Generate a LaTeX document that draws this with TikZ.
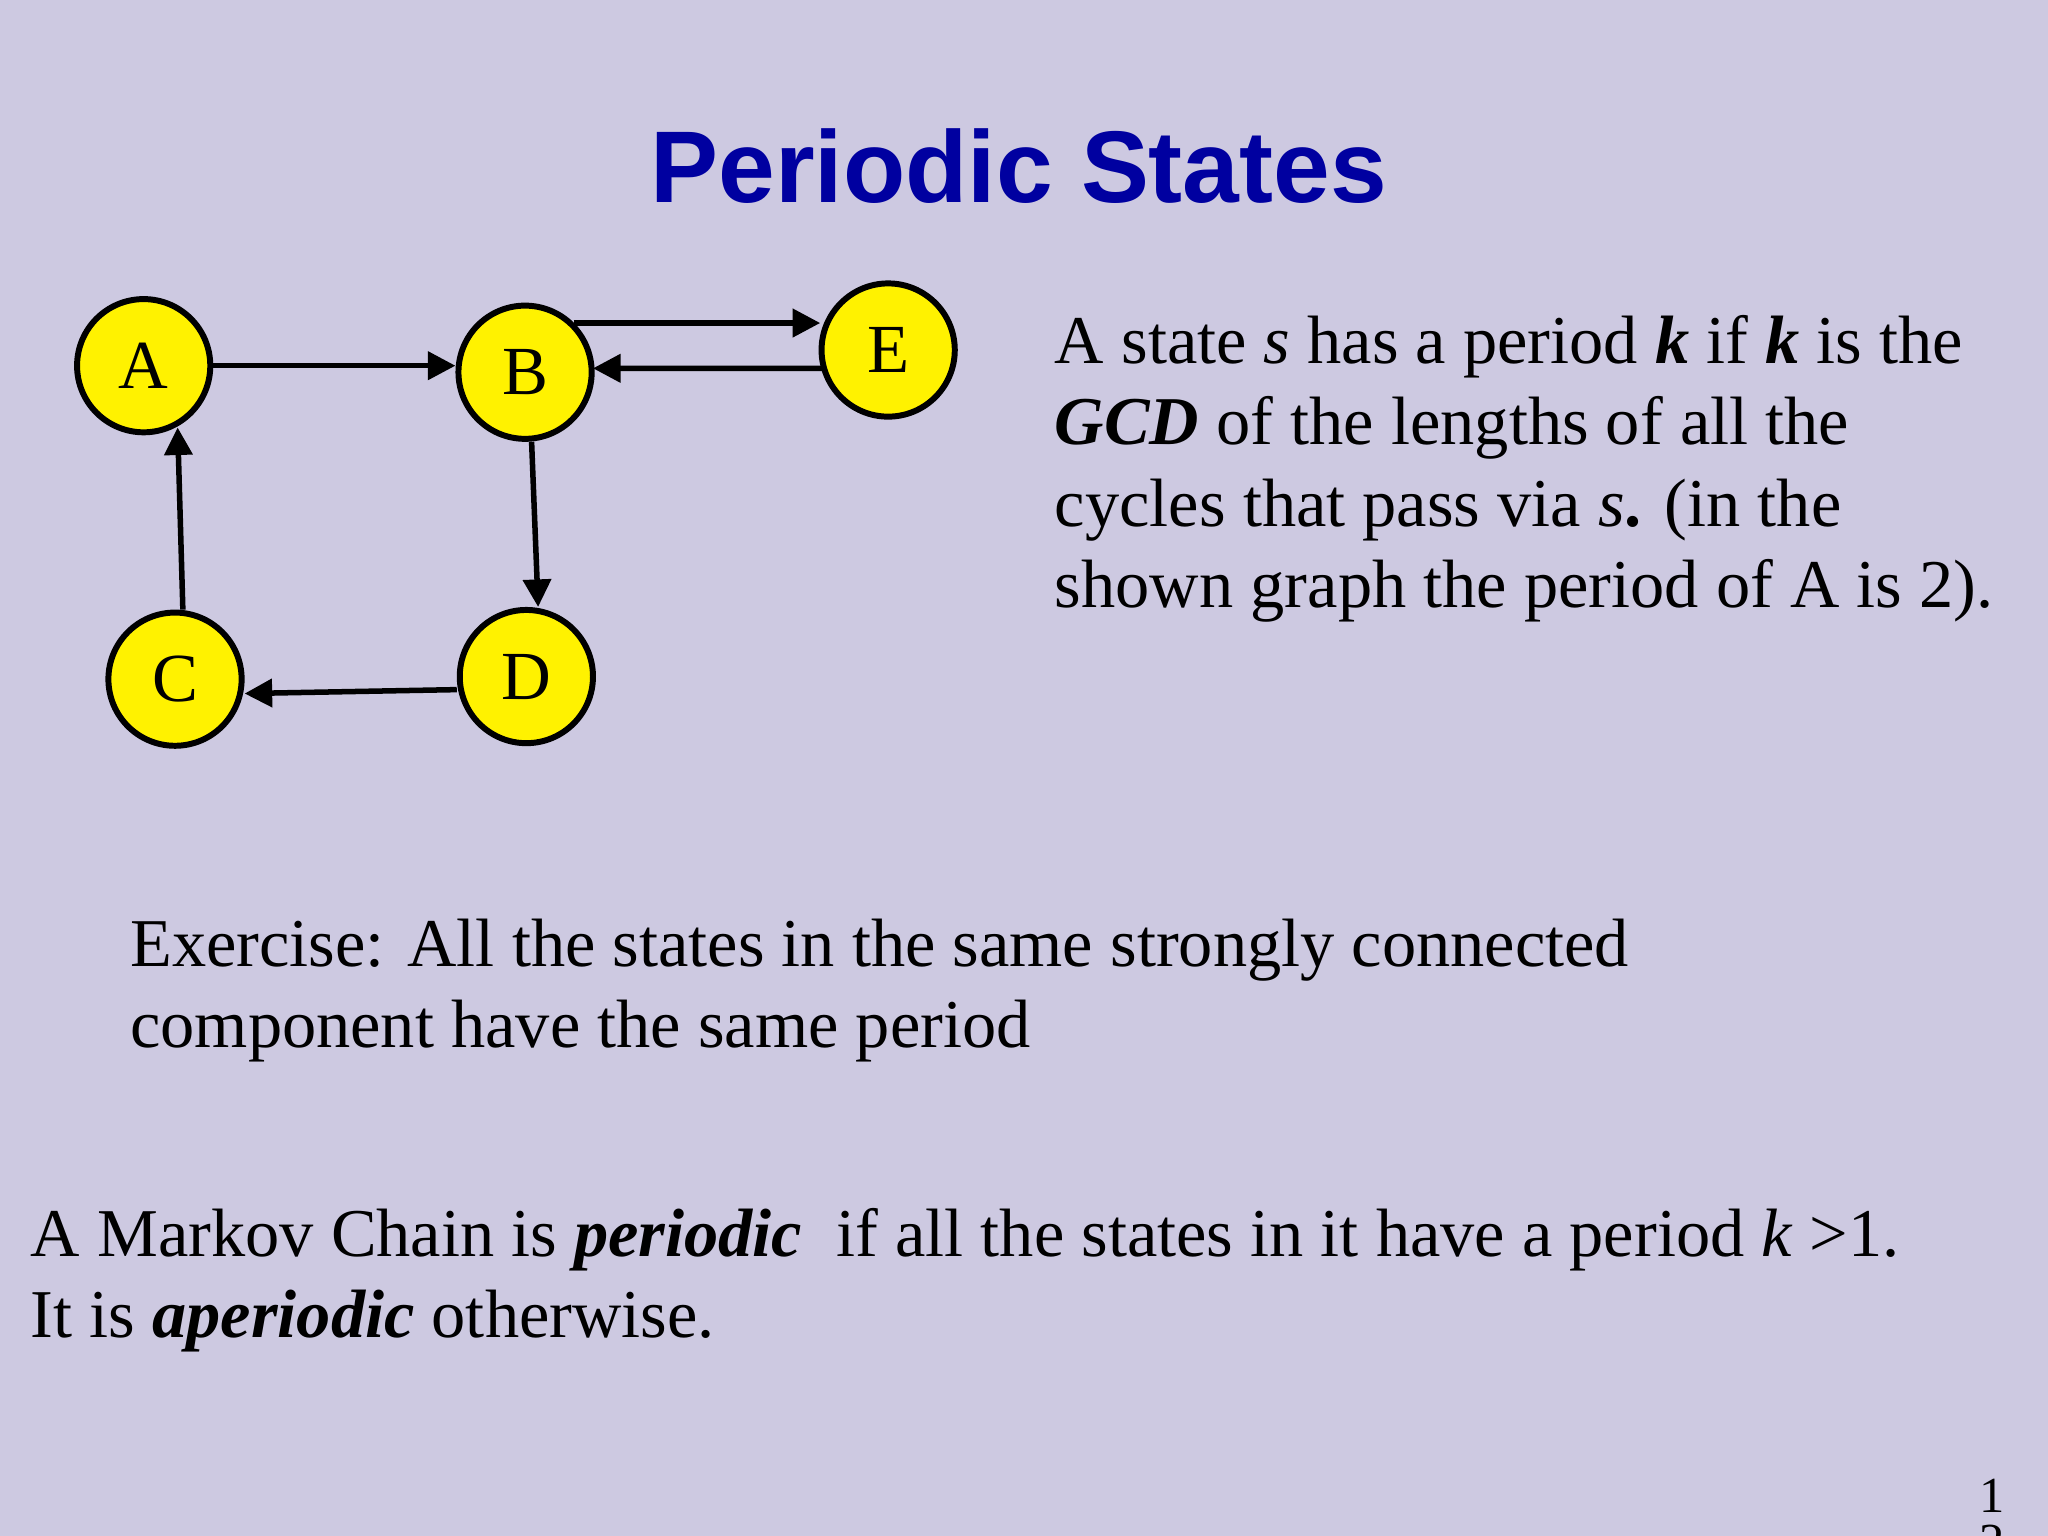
\documentclass[tikz,border=0pt]{standalone}
\usepackage{fontspec}
\setmainfont{Liberation Serif}
\newfontfamily\titlefont{Liberation Sans}
\usetikzlibrary{arrows.meta,calc}
\definecolor{bg}{RGB}{205,201,225}
\definecolor{ttl}{RGB}{0,0,160}
\begin{document}
\begin{tikzpicture}[
  st/.style={circle,draw=black,line width=1.3pt,fill=yellow,minimum size=1.02cm,inner sep=0pt,font=\fontsize{15}{15}\selectfont},
  ar/.style={-{Triangle[length=6pt,width=6pt]},line width=1.2pt},
  txt/.style={anchor=base west,inner sep=0pt,font=\fontsize{14.9}{18}\selectfont}]
\fill[bg] (0,0) rectangle (15.68,-11.76);
\useasboundingbox (0,0) rectangle (15.68,-11.76);
\node[anchor=base,inner sep=0pt,font=\titlefont\fontsize{22.2}{26}\selectfont\bfseries,text=ttl] (title) at (7.8,-1.55) {Periodic States};
\node[st] (A) at (1.10,-2.80) {A};
\node[st] (B) at (4.02,-2.85) {B};
\node[st] (E) at (6.80,-2.68) {E};
\node[st] (C) at (1.34,-5.20) {C};
\node[st] (D) at (4.03,-5.18) {D};
\draw[ar] (A.east) -- (A.east -| B.west);
\draw[ar] (B.45) -- ($(B.45 -| E.center)+(-0.52,0)$);
\draw[ar] ($(E.center)+(-0.5,-0.14)$) -- ($(B.center)+(0.52,0.03)$);
\draw[ar] ($(B.south)+(0.05,0)$) -- ($(D.north)+(0.09,0)$);
\draw[ar] ($(D.west)+(0,-0.1)$) -- ($(C.east)+(0,-0.11)$);
\draw[ar] ($(C.north)+(0.06,0)$) -- ($(A.south)+(0.26,0.06)$);
\node[txt] (t1) at (8.07,-2.78) {A state \textit{s} has a period \textbf{\textit{k}} if \textbf{\textit{k}} is the};
\node[txt] (t2) at (8.07,-3.40) {\textbf{\textit{GCD}} of the lengths of all the};
\node[txt] (t3) at (8.07,-4.03) {cycles that pass via \textit{s}\textbf{.} (in the};
\node[txt] (t4) at (8.07,-4.65) {shown graph the period of A is 2).};
\node[txt] (x1) at (0.99,-7.40) {Exercise: All the states in the same strongly connected};
\node[txt] (x2) at (0.99,-8.02) {component have the same period};
\node[txt] (m1) at (0.23,-9.62) {A Markov Chain is \textbf{\textit{periodic}}\ \ if all the states in it have a period \textit{k} >1.};
\node[txt] (m2) at (0.23,-10.24) {It is \textbf{\textit{aperiodic}} otherwise.};
\node[anchor=base,inner sep=0pt,font=\fontsize{11}{11}\selectfont] (p1) at (15.25,-11.58) {1};
\node[anchor=base,inner sep=0pt,font=\fontsize{11}{11}\selectfont] (p2) at (15.25,-11.93) {2};
\end{tikzpicture}
\end{document}
